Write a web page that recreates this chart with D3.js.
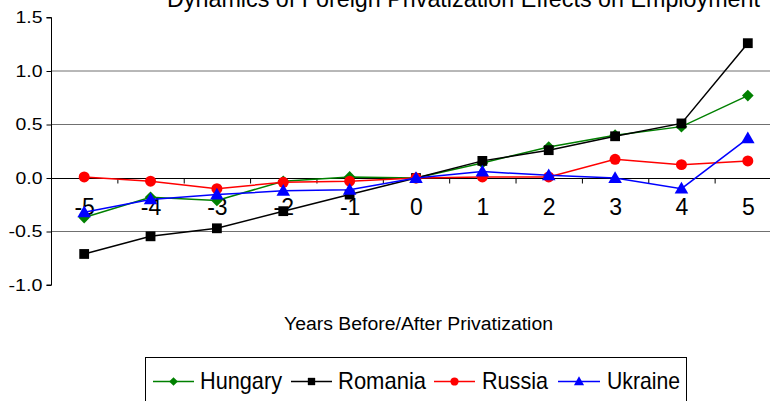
<!DOCTYPE html>
<html>
<head>
<meta charset="utf-8">
<script src="https://cdn.jsdelivr.net/npm/d3@7"></script>
<style>
  body { margin: 0; background: #fff; }
  svg { display: block; font-family: "Liberation Sans", Arial, sans-serif; }
</style>
</head>
<body>
<svg width="770" height="401"></svg>
<script>
// data
var years = [-5, -4, -3, -2, -1, 0, 1, 2, 3, 4, 5];
var hungary = [-0.37, -0.18, -0.21, -0.03, 0.01, 0.00, 0.14, 0.29, 0.40, 0.48, 0.77];
var romania = [-0.71, -0.545, -0.47, -0.31, -0.155, 0.00, 0.16, 0.26, 0.39, 0.51, 1.26];
var russia = [0.01, -0.03, -0.10, -0.04, -0.03, 0.00, 0.01, 0.01, 0.175, 0.125, 0.16];
var ukraine = [-0.32, -0.20, -0.155, -0.12, -0.11, 0.00, 0.06, 0.025, 0.00, -0.10, 0.37];
var yTicks = [-1.0, -0.5, 0.0, 0.5, 1.0, 1.5];

var series = [
  { name: "Hungary", values: hungary, color: "#008000", shape: "diamond" },
  { name: "Romania", values: romania, color: "#000000", shape: "square" },
  { name: "Russia", values: russia, color: "#ff0000", shape: "circle" },
  { name: "Ukraine", values: ukraine, color: "#0000ff", shape: "triangle" }
];

var svg = d3.select("svg");

var x = d3.scaleLinear().domain([-5.5, 5.5]).range([51, 781]);
var y = d3.scaleLinear().domain([-1, 1.5]).range([285, 17.5]);

// marker shapes
function marker(sel, shape, color) {
  if (shape == "diamond") {
    sel.append("path").attr("d", d3.symbol(d3.symbolSquare, 68)())
      .attr("transform", "rotate(45)");
  } else if (shape == "square") {
    sel.append("path").attr("d", d3.symbol(d3.symbolSquare, 96)());
  } else if (shape == "circle") {
    sel.append("path").attr("d", d3.symbol(d3.symbolCircle, 95)());
  } else {
    sel.append("path").attr("d", d3.symbol(d3.symbolTriangle, 80)())
      .attr("transform", "translate(0,1)");
  }
  sel.selectAll("path").style("fill", color).style("stroke", "none");
}

// gridlines
svg.append("g").selectAll("line")
  .data(yTicks.filter(d => d > -1 && d < 1.5 && d != 0)).enter()
  .append("line")
  .attr("x1", 51).attr("x2", 781)
  .attr("y1", d => y(d)).attr("y2", d => y(d))
  .style("stroke", "#707070").style("stroke-width", 1);

// y axis
var yAxis = d3.axisLeft(y).tickValues(yTicks).tickSize(5).tickPadding(4)
  .tickFormat(d3.format(".1f"));
var gy = svg.append("g").attr("transform", "translate(51.5,0)").call(yAxis);
gy.select(".domain").attr("d", "M-5," + y(1.5) + "H0V" + y(-1) + "H-5");
gy.selectAll("text").style("font-size", "16px").style("fill", "#000")
  .attr("textLength", d => d < 0 ? 34 : 27).attr("lengthAdjust", "spacingAndGlyphs")
  .text(d => d3.format(".1f")(d).replace("−", "-"));

// x axis at zero, ticks between categories
var xAxis = d3.axisBottom(x).tickValues(d3.range(-4.5, 5.5, 1)).tickSize(5).tickFormat("");
var gx = svg.append("g").attr("transform", "translate(0," + (Math.round(y(0)) + 0.5) + ")").call(xAxis);
gx.select(".domain").attr("d", "M51,0H781");
svg.selectAll(".domain, .tick line").style("stroke", "#000");

// x labels sit low
var xLabels = d3.axisBottom(x).tickValues(years).tickSize(0).tickPadding(0)
  .tickFormat(d => String(d));
var gl = svg.append("g").attr("transform", "translate(0,199)").call(xLabels);
gl.select(".domain").remove();
gl.selectAll("text").style("font-size", "23px").style("fill", "#000");

// lines and markers
var line = d3.line().x((d, i) => x(years[i])).y(d => y(d));
series.forEach(function(s) {
  svg.append("path").datum(s.values)
    .attr("d", line)
    .style("fill", "none").style("stroke", s.color).style("stroke-width", 1.5);
  svg.append("g").selectAll("g")
    .data(s.values).enter()
    .append("g")
    .attr("transform", (d, i) => "translate(" + x(years[i]) + "," + y(d) + ")")
    .each(function() { marker(d3.select(this), s.shape, s.color); });
});

// title (clipped at top, as in the original)
svg.append("text")
  .attr("x", 167).attr("y", 7)
  .attr("textLength", 593).attr("lengthAdjust", "spacingAndGlyphs")
  .style("font-size", "24px")
  .text("Dynamics of Foreign Privatization Effects on Employment");

// axis title
svg.append("text")
  .attr("x", 284).attr("y", 330)
  .attr("textLength", 269).attr("lengthAdjust", "spacingAndGlyphs")
  .style("font-size", "18px")
  .text("Years Before/After Privatization");

// legend
svg.append("rect")
  .attr("x", 145.5).attr("y", 357.5).attr("width", 541).attr("height", 60)
  .style("fill", "#fff").style("stroke", "#000").style("stroke-width", 1);

var legendPos = [
  { x1: 153, x2: 194, tx: 200, tw: 82 },
  { x1: 291, x2: 332, tx: 338, tw: 88 },
  { x1: 434, x2: 475, tx: 482, tw: 66 },
  { x1: 558, x2: 600, tx: 607, tw: 73 }
];
series.forEach(function(s, i) {
  var p = legendPos[i];
  var g = svg.append("g");
  g.append("line").attr("x1", p.x1).attr("x2", p.x2)
    .attr("y1", 381.5).attr("y2", 381.5)
    .style("stroke", s.color).style("stroke-width", 1.5);
  var m = g.append("g").attr("transform", "translate(" + ((p.x1 + p.x2) / 2) + ",381.5) scale(0.75)");
  marker(m, s.shape, s.color);
  g.append("text").attr("x", p.tx).attr("y", 389)
    .attr("textLength", p.tw).attr("lengthAdjust", "spacingAndGlyphs")
    .style("font-size", "24px")
    .text(s.name);
});
</script>
</body>
</html>
